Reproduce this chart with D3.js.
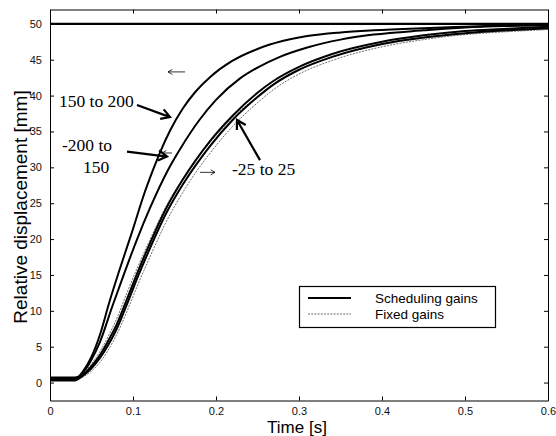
<!DOCTYPE html>
<html><head><meta charset="utf-8">
<script src="https://cdn.jsdelivr.net/npm/d3@7"></script>
<style>body{margin:0;background:#fff}svg{display:block}</style>
</head><body><svg id="c" width="556" height="436"></svg>
<script>
const xTicks = [0, 0.1, 0.2, 0.3, 0.4, 0.5, 0.6];
const xTickLabels = ["0", "0.1", "0.2", "0.3", "0.4", "0.5", "0.6"];
const yTicks = [0, 5, 10, 15, 20, 25, 30, 35, 40, 45, 50];
const yTickLabels = ["0", "5", "10", "15", "20", "25", "30", "35", "40", "45", "50"];

const reference = [[0, 50], [0.6, 50]];
// Scheduling gains, 150 to 200
const schedFast = [[0,0.5],[0.03,0.5],[0.04,1.6],[0.05,3.6],[0.06,6.6],[0.072,11.4],[0.084,15.8],[0.1,21.4],[0.112,25.8],[0.124,29.6],[0.133,32.2],[0.145,35.2],[0.16,38.2],[0.175,40.5],[0.193,42.6],[0.219,44.8],[0.25,46.5],[0.28,47.6],[0.31,48.3],[0.35,48.8],[0.39,49.1],[0.45,49.4],[0.5,49.6],[0.55,49.8],[0.6,49.9]];
// Scheduling gains, -200 to 150
const schedMid = [[0,0.6],[0.03,0.6],[0.04,1.4],[0.05,3.2],[0.06,5.6],[0.075,10.6],[0.09,15.4],[0.105,20.0],[0.12,24.2],[0.142,29.6],[0.157,32.6],[0.18,36.6],[0.2,39.4],[0.229,42.4],[0.25,43.9],[0.277,45.4],[0.31,46.7],[0.35,47.8],[0.39,48.5],[0.45,49.1],[0.5,49.5],[0.55,49.7],[0.6,49.8]];
// Scheduling gains, -25 to 25 (two close runs)
const schedSlowA = [[0,0.3],[0.03,0.3],[0.04,1.0],[0.05,2.0],[0.06,3.4],[0.07,5.2],[0.08,7.4],[0.093,11.0],[0.106,14.8],[0.12,18.6],[0.14,23.6],[0.16,27.6],[0.175,30.2],[0.193,33.0],[0.22,36.6],[0.25,39.8],[0.27,41.6],[0.3,43.6],[0.34,45.4],[0.4,47.2],[0.45,48.1],[0.5,48.7],[0.55,49.1],[0.6,49.4]];
const schedSlowB = [[0,0.7],[0.03,0.7],[0.04,1.1],[0.05,2.3],[0.06,3.8],[0.07,5.8],[0.08,8.0],[0.093,11.7],[0.106,15.5],[0.12,19.3],[0.14,24.3],[0.16,28.3],[0.175,30.9],[0.193,33.7],[0.22,37.2],[0.25,40.4],[0.27,42.1],[0.3,44.0],[0.34,45.8],[0.4,47.5],[0.45,48.4],[0.5,49.0],[0.55,49.3],[0.6,49.6]];
// Fixed gains
const fixedA = [[0,0.5],[0.03,0.5],[0.04,0.8],[0.05,1.6],[0.06,2.8],[0.07,4.5],[0.08,6.6],[0.093,10.0],[0.106,13.7],[0.12,17.4],[0.14,22.4],[0.16,26.5],[0.175,29.2],[0.193,32.0],[0.22,35.7],[0.25,39.0],[0.27,40.9],[0.3,43.0],[0.34,44.9],[0.4,46.8],[0.45,47.8],[0.5,48.5],[0.55,48.9],[0.6,49.2]];
const fixedB = [[0,0.6],[0.03,0.6],[0.04,1.3],[0.05,2.6],[0.06,4.3],[0.07,6.4],[0.08,8.8],[0.093,12.6],[0.106,16.2],[0.12,19.8],[0.14,24.6],[0.16,28.4],[0.175,30.9],[0.193,33.5],[0.22,36.9],[0.25,39.9],[0.27,41.7],[0.3,43.6],[0.34,45.4],[0.4,47.1],[0.45,48.0],[0.5,48.6],[0.55,49.0],[0.6,49.3]];

const legendLabels = ["Scheduling gains", "Fixed gains"];
const annotTexts = ["150 to 200", "-200 to", "150", "-25 to 25"];
const annotPos = [[0.0108, 38.4], [0.0145, 32.3], [0.0398, 29.2], [0.2193, 28.9]];
const thickArrows = [[[0.1048, 38.7], [0.1446, 37.0]], [[0.0928, 32.2], [0.141, 31.5]], [[0.253, 31.0], [0.2253, 36.6]]];
const thinArrows = [[[0.1627, 43.3], [0.1422, 43.3]], [[0.147, 32.0], [0.135, 32.0]], [[0.1807, 29.3], [0.1988, 29.3]]];

const svg = d3.select("#c");
const L = 50, R = 548, T = 9.5, B = 400.5;
const x = d3.scaleLinear().domain([0, 0.6]).range([L, R]);
const y = d3.scaleLinear().domain([-2.5, 52]).range([B, T]);

svg.append("defs").append("clipPath").attr("id", "clip")
  .append("rect").attr("x", L).attr("y", T).attr("width", R - L).attr("height", B - T);

const line = d3.line().x(d => x(d[0])).y(d => y(d[1])).curve(d3.curveMonotoneX);
const g = svg.append("g").attr("clip-path", "url(#clip)");

[fixedA, fixedB].forEach(s => g.append("path").attr("d", line(s)).attr("fill", "none")
  .attr("stroke", "#444").attr("stroke-width", 0.8).attr("stroke-dasharray", "2,1.2"));
[schedSlowA, schedSlowB, schedMid, schedFast].forEach(s => g.append("path").attr("d", line(s)).attr("fill", "none")
  .attr("stroke", "#000").attr("stroke-width", 2));
g.append("path").attr("d", line(reference)).attr("fill", "none").attr("stroke", "#000").attr("stroke-width", 2.2);

// axes (MATLAB-style box with inward ticks)
const axFont = "'Liberation Sans', Arial, sans-serif";
const axBottom = d3.axisBottom(x).tickValues(xTicks).tickFormat((d, i) => xTickLabels[i]).tickSizeInner(-4).tickSizeOuter(0).tickPadding(7);
const axTop = d3.axisTop(x).tickValues(xTicks).tickFormat("").tickSizeInner(-4).tickSizeOuter(0);
const axLeft = d3.axisLeft(y).tickValues(yTicks).tickFormat((d, i) => yTickLabels[i]).tickSizeInner(-4).tickSizeOuter(0).tickPadding(8);
const axRight = d3.axisRight(y).tickValues(yTicks).tickFormat("").tickSizeInner(-4).tickSizeOuter(0);

function styleAxis(sel) {
  sel.selectAll(".domain").attr("stroke", "#000").attr("stroke-width", 1);
  sel.selectAll(".tick line").attr("stroke", "#000").attr("stroke-width", 1);
  sel.selectAll("text").attr("font-family", axFont).attr("font-size", 11).attr("fill", "#111");
}
styleAxis(svg.append("g").attr("transform", `translate(0,${B})`).call(axBottom));
styleAxis(svg.append("g").attr("transform", `translate(0,${T})`).call(axTop));
styleAxis(svg.append("g").attr("transform", `translate(${L},0)`).call(axLeft));
styleAxis(svg.append("g").attr("transform", `translate(${R},0)`).call(axRight));

svg.append("text").attr("x", 297).attr("y", 433).attr("text-anchor", "middle")
  .attr("font-family", axFont).attr("font-size", 17).text("Time [s]");
svg.append("text").attr("transform", `translate(27,207) rotate(-90)`).attr("text-anchor", "middle")
  .attr("font-family", axFont).attr("font-size", 19).text("Relative displacement [mm]");

// annotations
const serif = "'Liberation Serif', 'Times New Roman', serif";
annotTexts.forEach((t, i) => svg.append("text").attr("x", x(annotPos[i][0])).attr("y", y(annotPos[i][1]))
  .attr("font-family", serif).attr("font-size", 17.5).text(t));

function arrow(a, w, head) {
  const x1 = x(a[0][0]), y1 = y(a[0][1]), x2 = x(a[1][0]), y2 = y(a[1][1]);
  const ang = Math.atan2(y2 - y1, x2 - x1);
  const p = d3.path();
  p.moveTo(x1, y1); p.lineTo(x2, y2);
  const a1 = ang + Math.PI * 0.83, a2 = ang - Math.PI * 0.83;
  p.moveTo(x2 + head * Math.cos(a1), y2 + head * Math.sin(a1)); p.lineTo(x2, y2);
  p.lineTo(x2 + head * Math.cos(a2), y2 + head * Math.sin(a2));
  svg.append("path").attr("d", p.toString()).attr("fill", "none").attr("stroke", "#000")
    .attr("stroke-width", w).attr("stroke-linejoin", "miter");
}
thickArrows.forEach(a => arrow(a, 2.2, 10));
thinArrows.forEach(a => arrow(a, 0.8, 5));

// legend
const lg = svg.append("g");
lg.append("rect").attr("x", 299.5).attr("y", 286.5).attr("width", 196).attr("height", 41)
  .attr("fill", "#fff").attr("stroke", "#000").attr("stroke-width", 1.2);
const legendStyles = [{ w: 2, dash: null, c: "#000" }, { w: 0.8, dash: "2,1.2", c: "#444" }];
legendLabels.forEach((lab, i) => {
  const yy = 298 + i * 16;
  lg.append("line").attr("x1", 308).attr("x2", 351).attr("y1", yy).attr("y2", yy)
    .attr("stroke", legendStyles[i].c).attr("stroke-width", legendStyles[i].w).attr("stroke-dasharray", legendStyles[i].dash);
  lg.append("text").attr("x", 375).attr("y", yy + 4.5).attr("font-family", axFont).attr("font-size", 13.5).text(lab);
});
</script></body></html>
